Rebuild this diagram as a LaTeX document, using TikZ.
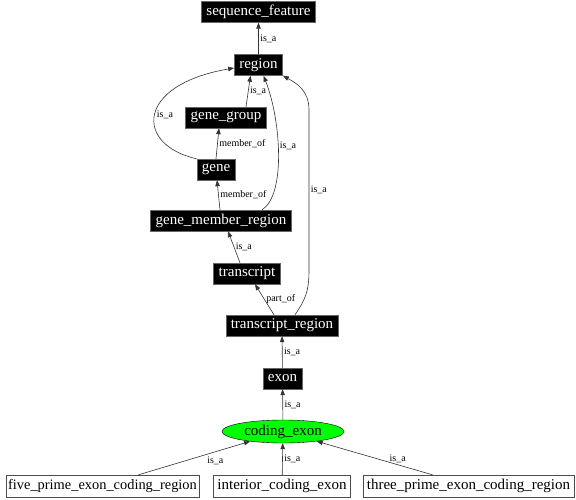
\documentclass[tikz,border=0pt]{standalone}
\usepackage{fontspec}
\setmainfont{Liberation Serif}
\usetikzlibrary{arrows.meta,shapes.geometric}

\tikzset{
  term/.style={fill=black,draw=black!60,text=white,font=\fontsize{15}{17}\selectfont,
    minimum height=21pt,inner xsep=5pt,inner ysep=2pt},
  leaf/.style={fill=white,draw=black!70,font=\fontsize{15}{17}\selectfont,
    minimum height=22pt,inner xsep=4pt,inner ysep=2pt},
  focus/.style={ellipse,fill=green,draw=black,font=\fontsize{15}{17}\selectfont,
    minimum width=122pt,minimum height=23pt,inner sep=0pt},
  edge/.style={draw=black!80,line width=0.6pt,-{Triangle[length=6pt,width=4.5pt]}},
  lbl/.style={font=\fontsize{10}{12}\selectfont,inner sep=1.5pt}
}

\begin{document}
\begin{tikzpicture}[x=1pt,y=-1pt] %[scale=1.0]
\useasboundingbox (0,0) rectangle (576,500);
\node[term] (sf) at (258.5,12) {sequence\_feature};
\node[term] (region) at (258.5,65) {region};
\node[term] (gg) at (226,117.5) {gene\_group};
\node[term] (gene) at (216,169.5) {gene};
\node[term] (gmr) at (221,220.5) {gene\_member\_region};
\node[term] (transcript) at (247,273.5) {transcript};
\node[term] (tr) at (282,325.5) {transcript\_region};
\node[term] (exon) at (282.5,378.5) {exon};
\node[focus] (cexon) at (283,431.5) {coding\_exon};
\node[leaf,font=\fontsize{14.4}{17}\selectfont,inner xsep=2pt] (five) at (102.5,486) {five\_prime\_exon\_coding\_region};
\node[leaf] (interior) at (282,486) {interior\_coding\_exon};
\node[leaf] (three) at (468.5,486) {three\_prime\_exon\_coding\_region};

\draw[edge] (region) -- node[lbl,right] {is\_a} (sf);
\draw[edge] ([xshift=20pt]gg.north) -- node[lbl,right] {is\_a} ([xshift=-8pt]region.south);
\draw[edge] (gene.north west) .. controls (135,145) and (135,85) .. node[lbl,right] {is\_a} ([yshift=-3pt]region.west);
\draw[edge] (gene.north) -- node[lbl,right] {member\_of} ([xshift=-7pt]gg.south);
\draw[edge] ([xshift=41pt]gmr.north) .. controls (286,195) and (281,120) .. node[lbl,right,pos=0.55] {is\_a} ([xshift=5pt]region.south);
\draw[edge] ([xshift=-1pt]gmr.north) -- node[lbl,right] {member\_of} ([xshift=1pt]gene.south);
\draw[edge] ([xshift=-7pt]transcript.north) -- node[lbl,right] {is\_a} ([xshift=7pt]gmr.south);
\draw[edge] ([xshift=-8pt]tr.north) -- node[lbl,right] {part\_of} ([xshift=8pt]transcript.south);
\draw[edge] ([xshift=13pt]tr.north) .. controls (305,300) and (309,292) .. (309,270)
  -- node[lbl,right] {is\_a} (309,110) .. controls (309,90) and (296,83) .. (region.south east);
\draw[edge] (exon) -- node[lbl,right] {is\_a} (tr);
\draw[edge] (cexon) -- node[lbl,right] {is\_a} (exon);
\draw[edge] ([xshift=36pt]five.north) -- node[lbl,below right,pos=0.6] {is\_a} (cexon);
\draw[edge] (interior) -- node[lbl,right] {is\_a} (cexon);
\draw[edge] ([xshift=-36pt]three.north) -- node[lbl,above,pos=0.3] {is\_a} (cexon);
\end{tikzpicture}
\end{document}
